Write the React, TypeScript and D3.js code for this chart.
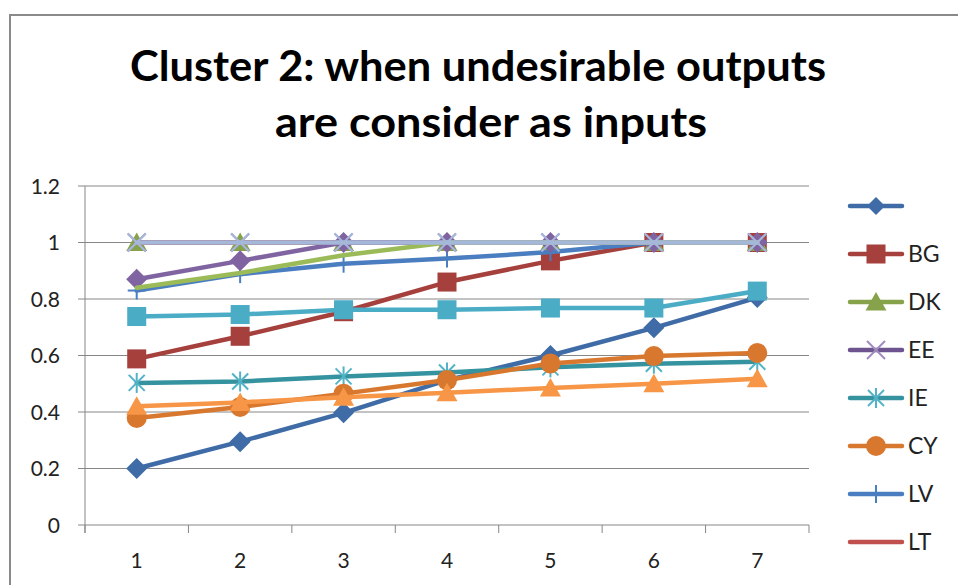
import React from "react";
import * as d3 from "d3";

const categories = ["1", "2", "3", "4", "5", "6", "7"];
const yTicks = [0, 0.2, 0.4, 0.6, 0.8, 1, 1.2];

const seriesNames = ["", "BG", "DK", "EE", "IE", "CY", "LV", "LT", "", "", "", "", ""];
const s1 = [0.2, 0.295, 0.397, 0.513, 0.6, 0.698, 0.805];
const sBG = [0.588, 0.668, 0.755, 0.86, 0.935, 1, 1];
const sDK = [1, 1, 1, 1, 1, 1, 1];
const sEE = [1, 1, 1, 1, 1, 1, 1];
const sIE = [0.503, 0.508, 0.526, 0.54, 0.558, 0.571, 0.578];
const sCY = [0.379, 0.418, 0.465, 0.513, 0.572, 0.598, 0.609];
const sLV = [0.83, 0.888, 0.925, 0.943, 0.966, 1, 1];
const sLT = [1, 1, 1, 1, 1, 1, 1];
const s9 = [0.87, 0.935, 1, 1, 1, 1, 1];
const s10 = [0.738, 0.745, 0.762, 0.762, 0.768, 0.768, 0.828];
const s11 = [0.42, 0.434, 0.452, 0.468, 0.485, 0.5, 0.518];
const s12 = [0.84, 0.892, 0.955, 1, 1, 1, 1];
const s13 = [1, 1, 1, 1, 1, 1, 1];

const seriesValues = [s1, sBG, sDK, sEE, sIE, sCY, sLV, sLT, s9, s10, s11, s12, s13];
const lineColors = ["#3F6CA6", "#A5403D", "#86A24A", "#6E548E", "#35939F", "#D8782F", "#4A7EC0", "#C0504D", "#8064A2", "#4BACC6", "#F79646", "#9BBB59", "#A5B8D9"];
const markerColors = ["#3F6CA6", "#A5403D", "#86A24A", "#A08ABF", "#52B2C6", "#D8782F", "#4A7EC0", "#C0504D", "#8064A2", "#4BACC6", "#F79646", "#9BBB59", "#A5B8D9"];
const markerTypes = ["diamond", "square", "triangle", "x", "star", "circle", "plus", "none", "diamond", "square", "triangle", "none", "x"];

const legendCount = 8;

function Marker({ type, color, x, y, legend }: { type: string; color: string; x: number; y: number; legend?: boolean }) {
  const t = `translate(${x},${y})`;
  switch (type) {
    case "diamond": {
      const s = legend ? 9 : 10.5;
      return <path transform={t} d={`M0,${-s}L${s},0L0,${s}L${-s},0Z`} fill={color} />;
    }
    case "square":
      return <rect transform={t} x={-9.5} y={-9.5} width={19} height={19} fill={color} />;
    case "triangle":
      return <path transform={t} d="M0,-10L10.5,8.5L-10.5,8.5Z" fill={color} />;
    case "x":
      return (
        <g transform={t} stroke={color} strokeWidth={2}>
          <line x1={-9} y1={-9} x2={9} y2={9} />
          <line x1={-9} y1={9} x2={9} y2={-9} />
        </g>
      );
    case "star":
      return (
        <g transform={t} stroke={color} strokeWidth={2}>
          <line x1={-8} y1={-8} x2={8} y2={8} />
          <line x1={-8} y1={8} x2={8} y2={-8} />
          <line x1={0} y1={-10} x2={0} y2={10} />
        </g>
      );
    case "circle":
      return <circle transform={t} r={10} fill={color} />;
    case "plus":
      return (
        <g transform={t} stroke={color} strokeWidth={2}>
          <line x1={0} y1={-9} x2={0} y2={9} />
          <line x1={-9} y1={0} x2={9} y2={0} />
        </g>
      );
    default:
      return null;
  }
}

export default function App() {
  const W = 958;
  const H = 585;
  const left = 85;
  const right = 809;
  const top = 186;
  const bottom = 525;
  const x = d3.scaleBand().domain(categories).range([left, right]);
  const y = d3.scaleLinear().domain([0, 1.2]).range([bottom, top]);
  const cx = (c: string) => (x(c) as number) + x.bandwidth() / 2;
  const line = d3
    .line<number>()
    .x((_, i) => cx(categories[i]))
    .y((v) => y(v));

  const gridColor = "#878787";
  const textColor = "#222";
  const font = "Lato, 'Open Sans', sans-serif";

  const boundaries = [...categories.map((c) => x(c) as number), right];

  return (
    <svg width={W} height={H} style={{ position: "absolute", left: 0, top: 0, background: "#fff" }}>
      <rect x={0} y={0} width={W} height={H} fill="#fff" />
      <rect x={10} y={15} width={W + 20} height={H + 20} fill="none" stroke="#8a8a8a" strokeWidth={2} />

      <text x={130} y={81} fontFamily={font} fontWeight={700} fontSize={42} fill="#000" textLength={696} lengthAdjust="spacingAndGlyphs">
        Cluster 2: when undesirable outputs
      </text>
      <text x={275} y={137} fontFamily={font} fontWeight={700} fontSize={42} fill="#000" textLength={432} lengthAdjust="spacingAndGlyphs">
        are consider as inputs
      </text>

      {yTicks.map((t) => (
        <g key={t}>
          <line x1={left - 7} x2={right} y1={y(t)} y2={y(t)} stroke={gridColor} strokeWidth={1} />
          <text x={60} y={y(t)} dy="0.36em" textAnchor="end" fontFamily={font} fontSize={21} fill={textColor}>
            {String(t)}
          </text>
        </g>
      ))}
      <line x1={left} x2={left} y1={top} y2={bottom + 8} stroke={gridColor} strokeWidth={1} />
      {boundaries.map((b, i) => (
        <line key={i} x1={b} x2={b} y1={bottom} y2={bottom + 8} stroke={gridColor} strokeWidth={1} />
      ))}
      {categories.map((c) => (
        <text key={c} x={cx(c)} y={568} textAnchor="middle" fontFamily={font} fontSize={21} fill={textColor}>
          {c}
        </text>
      ))}

      {seriesValues.map((vals, si) => (
        <g key={si}>
          <path d={line(vals) || ""} fill="none" stroke={lineColors[si]} strokeWidth={4.5} strokeLinejoin="round" strokeLinecap="round" />
          {vals.map((v, i) => (
            <Marker key={i} type={markerTypes[si]} color={markerColors[si]} x={cx(categories[i])} y={y(v)} />
          ))}
        </g>
      ))}

      {seriesNames.slice(0, legendCount).map((name, i) => {
        const ly = 206 + i * 48;
        return (
          <g key={i}>
            <line x1={850} x2={902} y1={ly} y2={ly} stroke={lineColors[i]} strokeWidth={4.5} strokeLinecap="round" />
            <Marker type={markerTypes[i]} color={markerColors[i]} x={876} y={ly} legend />
            <text x={908} y={ly} dy="0.36em" fontFamily={font} fontSize={23} fill={textColor}>
              {name}
            </text>
          </g>
        );
      })}
    </svg>
  );
}
